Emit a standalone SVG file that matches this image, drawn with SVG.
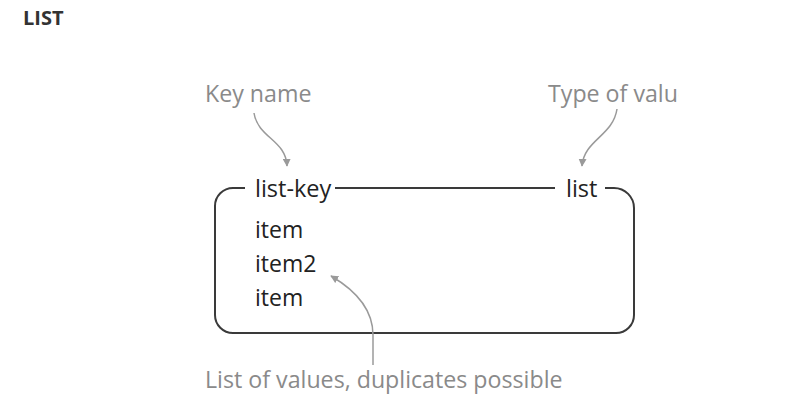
<svg xmlns="http://www.w3.org/2000/svg" width="794" height="402" viewBox="0 0 794 402">
<style>
.title{font-family:"Open Sans","DejaVu Sans",sans-serif;font-weight:bold;font-size:20px;fill:#333}
.note{font-family:"Open Sans","DejaVu Sans",sans-serif;font-size:23.2px;fill:#8a8a8a}
.lbl{font-family:"Open Sans","DejaVu Sans",sans-serif;font-size:23.5px;fill:#222}
.item{font-family:"Open Sans","DejaVu Sans",sans-serif;font-size:23px;fill:#222}
.box{fill:none;stroke:#3a3a3a;stroke-width:2}
.arr{fill:none;stroke:#9a9a9a;stroke-width:1.5}
</style>
<defs>
<marker id="ah" viewBox="0 0 10 10" refX="9" refY="5" markerWidth="8" markerHeight="8" markerUnits="userSpaceOnUse" orient="auto">
<path d="M0,0 L10,5 L0,10 z" fill="#9a9a9a"/>
</marker>
<clipPath id="clipT"><rect x="0" y="0" width="679" height="402"/></clipPath>
</defs>
<rect width="794" height="402" fill="#fff"/>
<text class="title" x="23" y="25">LIST</text>
<g id="key-name-note"><text class="note" x="205" y="102">Key name</text></g>
<g id="type-note" clip-path="url(#clipT)"><text class="note" x="548" y="102">Type of value</text></g>
<g id="values-note"><text class="note" x="205" y="388">List of values, duplicates possible</text></g>
<g id="list-box">
<path class="box" d="M245,188 H233 A18,18 0 0 0 215,206 V315 A18,18 0 0 0 233,333 H616 A18,18 0 0 0 634,315 V208 A20,20 0 0 0 614,188 H605"/>
<path class="box" d="M335,188 H555"/>
<text class="lbl" x="255" y="197">list-key</text>
<text class="lbl" x="566" y="197">list</text>
<text class="item" x="255" y="238">item</text>
<text class="item" x="255" y="272">item2</text>
<text class="item" x="255" y="306">item</text>
</g>
<g id="connectors">
<path class="arr" d="M254,113 C258,138 286,140 287,166" marker-end="url(#ah)"/>
<path class="arr" d="M617,109 C613,136 584,140 582,166" marker-end="url(#ah)"/>
<path class="arr" d="M373,365 L373,335 C373,308 355,290 331,276" marker-end="url(#ah)"/>
</g>
</svg>
